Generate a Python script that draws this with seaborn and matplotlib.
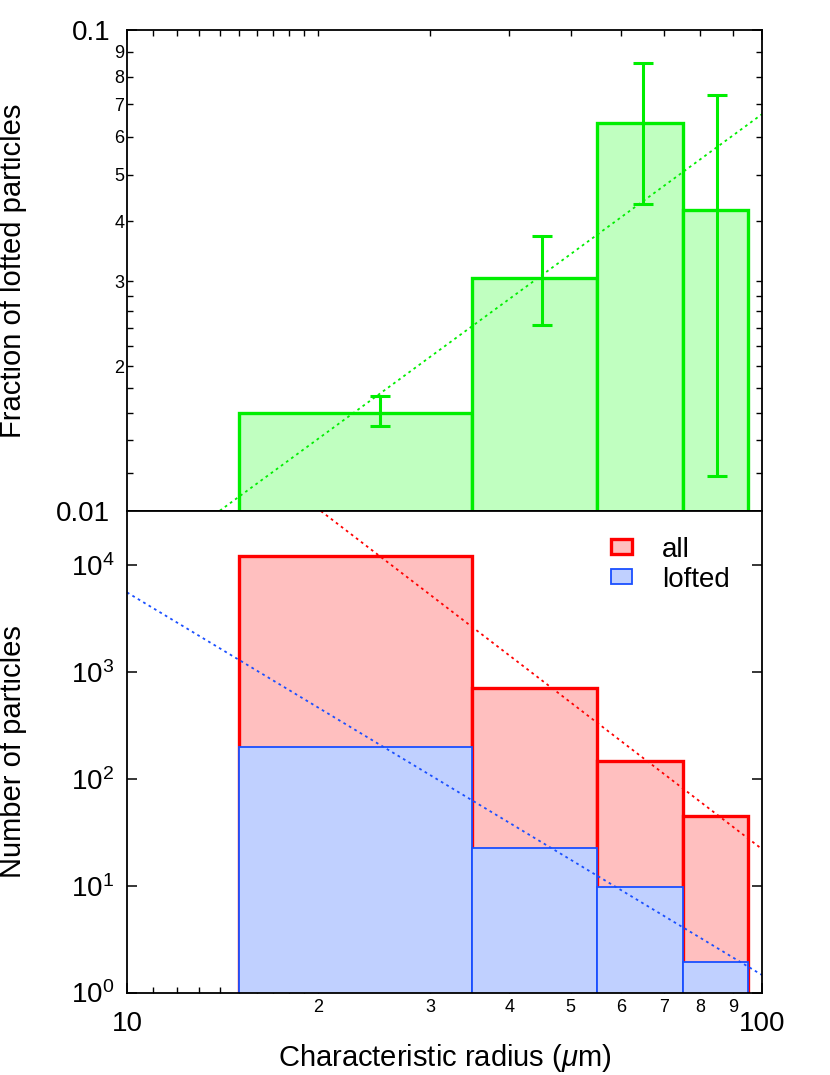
import numpy as np
import seaborn as sns
import matplotlib.pyplot as plt
from matplotlib.patches import Patch
from matplotlib.ticker import FixedLocator, FixedFormatter, NullLocator

# data
bin_edges = [15, 35, 55, 75, 95]          # characteristic radius (um)
bin_mids = [25, 45, 65, 85]
frac_lofted = [0.0160, 0.0305, 0.0641, 0.0422]
frac_err_hi = [0.0173, 0.0373, 0.0855, 0.0732]
frac_err_lo = [0.0150, 0.0243, 0.0435, 0.0118]
n_all = [12100, 710, 148, 45]
n_lofted = [200, 22.5, 9.7, 1.93]

# power-law fits (endpoints of the straight lines in log-log space)
fit_frac_x, fit_frac_y = [14.0, 100], [0.01, 0.0668]
fit_all_x, fit_all_y = [20.2, 100], [31900, 22]
fit_lof_x, fit_lof_y = [10, 100], [5530, 1.46]

sns.set_theme(style="ticks")
plt.rcParams["font.family"] = ["Liberation Sans", "DejaVu Sans"]
plt.rcParams["mathtext.fontset"] = "custom"
plt.rcParams["mathtext.rm"] = "Liberation Sans"
plt.rcParams["mathtext.it"] = "Liberation Sans:italic"
plt.rcParams["axes.linewidth"] = 1.3
for k in ["text.color", "axes.labelcolor", "xtick.color", "ytick.color", "axes.edgecolor"]:
    plt.rcParams[k] = "black"

fig = plt.figure(figsize=(8.3, 10.75), dpi=100)
ax1 = fig.add_axes([0.153, 0.5249, 0.765, 0.4472])
ax2 = fig.add_axes([0.153, 0.0767, 0.765, 0.4482])

# seaborn bins live in log10 space when log_scale is on
log_bins = list(np.log10(bin_edges))

# top panel: fraction lofted
sns.histplot(x=bin_mids, weights=frac_lofted, bins=log_bins, log_scale=True,
             element="bars", color="#c0ffc0", alpha=1, edgecolor="#00ee00",
             linewidth=2.4, ax=ax1)
ax1.errorbar(bin_mids, frac_lofted,
             yerr=[np.subtract(frac_lofted, frac_err_lo), np.subtract(frac_err_hi, frac_lofted)],
             fmt="none", ecolor="#00ee00", elinewidth=2.2, capsize=7, capthick=2.2, zorder=4)
sns.lineplot(x=fit_frac_x, y=fit_frac_y, color="#00ee00", linestyle=(0, (1.5, 2)), lw=1.3, ax=ax1)

# bottom panel: counts
sns.histplot(x=bin_mids, weights=n_all, bins=log_bins, log_scale=True,
             element="bars", color="#ffbfbf", alpha=1, edgecolor="#ff0000",
             linewidth=2.4, ax=ax2)
sns.histplot(x=bin_mids, weights=n_lofted, bins=log_bins, log_scale=True,
             element="bars", color="#c0d0ff", alpha=1, edgecolor="#1a4fff",
             linewidth=1.3, ax=ax2)
sns.lineplot(x=fit_all_x, y=fit_all_y, color="#ff0000", linestyle=(0, (1.5, 2)), lw=1.3, ax=ax2)
sns.lineplot(x=fit_lof_x, y=fit_lof_y, color="#1a4fff", linestyle=(0, (1.5, 2)), lw=1.3, ax=ax2)

for ax in (ax1, ax2):
    ax.set_xscale("log")
    ax.set_xlim(10, 100)
    ax.set_axisbelow(True)
    ax.set_xlabel("")
    ax.set_ylabel("")
    ax.tick_params(which="both", direction="in", color="black", labelcolor="black")
    ax.tick_params(which="major", length=7, width=1.1)
    ax.tick_params(which="minor", length=4, width=1.0)

ax1.set_yscale("log")
ax1.set_ylim(0.01, 0.1)
ax2.set_yscale("log")
ax2.set_ylim(1, 32100)

# x ticks
x_major = [10, 100]
x_minor = [11, 12, 13, 14, 15, 16, 17, 18, 19, 20, 30, 40, 50, 60, 70, 80, 90]
x_minor_lab = [""] * 9 + ["2", "3", "4", "5", "6", "7", "8", "9"]
for ax in (ax1, ax2):
    ax.xaxis.set_major_locator(FixedLocator(x_major))
    ax.xaxis.set_minor_locator(FixedLocator(x_minor))
ax1.xaxis.set_major_formatter(FixedFormatter(["", ""]))
ax1.xaxis.set_minor_formatter(FixedFormatter([""] * len(x_minor)))
ax1.tick_params(axis="x", which="both", top=True, bottom=False, labelbottom=False)
ax2.xaxis.set_major_formatter(FixedFormatter(["10", "100"]))
ax2.xaxis.set_minor_formatter(FixedFormatter(x_minor_lab))
ax2.tick_params(axis="x", which="both", top=False, bottom=True)
ax2.tick_params(axis="x", which="major", labelsize=20, pad=13)
ax2.tick_params(axis="x", which="minor", labelsize=13, pad=5)

# y ticks, top panel
y1_minor = [0.012, 0.014, 0.016, 0.018, 0.02, 0.022, 0.024, 0.026, 0.028,
            0.03, 0.04, 0.05, 0.06, 0.07, 0.08, 0.09]
y1_minor_lab = [""] * 4 + ["2"] + [""] * 4 + ["3", "4", "5", "6", "7", "8", "9"]
ax1.yaxis.set_major_locator(FixedLocator([0.01, 0.1]))
ax1.yaxis.set_major_formatter(FixedFormatter(["0.01", "0.1"]))
ax1.yaxis.set_minor_locator(FixedLocator(y1_minor))
ax1.yaxis.set_minor_formatter(FixedFormatter(y1_minor_lab))
ax1.tick_params(axis="y", which="both", left=True, right=True)
ax1.tick_params(axis="y", which="major", labelsize=20, pad=12)
ax1.tick_params(axis="y", which="minor", labelsize=13, pad=2)

# y ticks, bottom panel
ax2.yaxis.set_major_locator(FixedLocator([1, 10, 100, 1000, 10000]))
ax2.yaxis.set_major_formatter(FixedFormatter([r"10$^{0}$", r"10$^{1}$", r"10$^{2}$",
                                              r"10$^{3}$", r"10$^{4}$"]))
ax2.yaxis.set_minor_locator(NullLocator())
ax2.tick_params(axis="y", which="major", left=True, right=True, labelsize=20, pad=9)

ax1.set_ylabel("Fraction of lofted particles", fontsize=21)
ax2.set_ylabel("Number of particles", fontsize=21)
ax2.set_xlabel(r"Characteristic radius ($\mu$m)", fontsize=21, labelpad=4)
ax1.yaxis.set_label_coords(-0.158, 0.5)
ax2.yaxis.set_label_coords(-0.158, 0.5)

handles = [Patch(facecolor="#ffbfbf", edgecolor="#ff0000", linewidth=2.4, label="all"),
           Patch(facecolor="#c0d0ff", edgecolor="#1a4fff", linewidth=1.3, label="lofted")]
ax2.legend(handles=handles, loc="upper left", bbox_to_anchor=(0.74, 0.975), frameon=False,
           fontsize=20, handlelength=0.75, handleheight=0.45, handletextpad=1.1,
           labelspacing=0.15, borderpad=0)

fig.savefig("out.png", dpi=100)
